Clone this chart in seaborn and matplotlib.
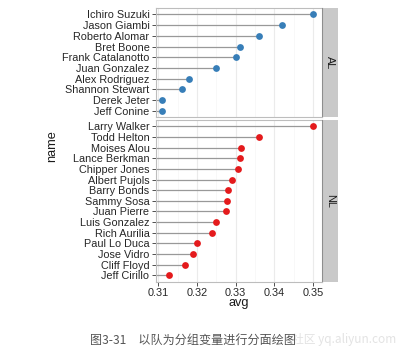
import matplotlib
matplotlib.use("Agg")
import matplotlib.pyplot as plt
import seaborn as sns
import pandas as pd

# 2001 top hitters, batting average by league
al_names = ["Ichiro Suzuki", "Jason Giambi", "Roberto Alomar", "Bret Boone",
            "Frank Catalanotto", "Juan Gonzalez", "Alex Rodriguez",
            "Shannon Stewart", "Derek Jeter", "Jeff Conine"]
al_avg = [0.350, 0.342, 0.336, 0.331, 0.330, 0.325, 0.318, 0.316, 0.311, 0.311]

nl_names = ["Larry Walker", "Todd Helton", "Moises Alou", "Lance Berkman",
            "Chipper Jones", "Albert Pujols", "Barry Bonds", "Sammy Sosa",
            "Juan Pierre", "Luis Gonzalez", "Rich Aurilia", "Paul Lo Duca",
            "Jose Vidro", "Cliff Floyd", "Jeff Cirillo"]
nl_avg = [0.350, 0.336, 0.3315, 0.331, 0.3305, 0.329, 0.328, 0.3278,
          0.3275, 0.325, 0.324, 0.320, 0.319, 0.317, 0.3127]

leagues = ["AL", "NL"]
colors = {"AL": "#377EB8", "NL": "#E41A1C"}
x_ticks = [0.31, 0.32, 0.33, 0.34, 0.35]

sns.set_theme(style="white")
plt.rcParams["font.family"] = ["Liberation Sans", "DejaVu Sans"]

W, H = 409, 356
fig = plt.figure(figsize=(W / 100, H / 100), dpi=100)

xlim = (0.30932, 0.35225)
panel_l, panel_r = 155.7, 321.7
strip_w = 16.5
panels = {"AL": (8.0, 117.3), "NL": (120.0, 281.7)}
data = {"AL": (al_names, al_avg), "NL": (nl_names, nl_avg)}

def fx(px):
    return px / W

def fy(py):
    return 1 - py / H

for lg in leagues:
    top, bot = panels[lg]
    ax = fig.add_axes([fx(panel_l), fy(bot), fx(panel_r - panel_l), (bot - top) / H])
    names, vals = data[lg]
    df = pd.DataFrame({"name": names, "avg": vals})
    n = len(names)

    # light vertical grid
    for t in x_ticks:
        ax.axvline(t, color="#EBEBEB", lw=0.8, zorder=0)
        ax.axvline(t + 0.005, color="#F5F5F5", lw=0.5, zorder=0)

    ax.hlines(y=range(n), xmin=xlim[0], xmax=df["avg"], color="#999999", lw=0.9, zorder=1)
    sns.stripplot(data=df, x="avg", y="name", order=names, jitter=False,
                  color=colors[lg], size=4.9, linewidth=0, ax=ax, zorder=3)

    ax.set_xlim(*xlim)
    ax.set_ylim(n - 1 + 0.6, -0.6)
    ax.set_xticks(x_ticks)
    ax.set_ylabel("")
    ax.set_xlabel("")
    ax.tick_params(axis="y", left=True, length=3, width=0.6, color="#333333",
                   labelsize=7.8, labelcolor="#262626", pad=1.5)
    for s in ax.spines.values():
        s.set_color("#BDBDBD")
        s.set_linewidth(0.8)
    if lg == "AL":
        ax.tick_params(axis="x", bottom=False, labelbottom=False)
    else:
        ax.tick_params(axis="x", bottom=True, length=3, width=0.6, color="#333333",
                       labelsize=7.8, labelcolor="#262626", pad=1.5)
        ax.set_xticklabels([f"{t:.2f}" for t in x_ticks])

    # facet strip on the right
    sax = fig.add_axes([fx(panel_r), fy(bot), fx(strip_w), (bot - top) / H])
    sax.set_facecolor("#C9C9C9")
    sax.set_xticks([])
    sax.set_yticks([])
    for s in sax.spines.values():
        s.set_visible(False)
    sax.axvline(0, color="#8E8E8E", lw=1.5)
    sax.text(0.5, 0.5, lg, rotation=-90, ha="center", va="center",
             fontsize=7.8, color="#1A1A1A", transform=sax.transAxes)

fig.text(fx(51.7), fy(146), "name", rotation=90, ha="center", va="center",
         fontsize=9.2, color="#1A1A1A")
fig.text(fx(238.7), fy(303), "avg", ha="center", va="center",
         fontsize=9.2, color="#1A1A1A")

fig.text(fx(396), fy(340), "社区 yq.aliyun.com", ha="right", va="center",
         fontsize=8.5, color="#E3E3E3", family=["Noto Sans CJK SC", "DejaVu Sans"])
fig.text(fx(90), fy(340), "图3-31　以队为分组变量进行分面绘图", ha="left", va="center",
         fontsize=8.7, color="#555555", family=["Noto Sans CJK SC", "DejaVu Sans"])

fig.savefig("out.png", dpi=100)
